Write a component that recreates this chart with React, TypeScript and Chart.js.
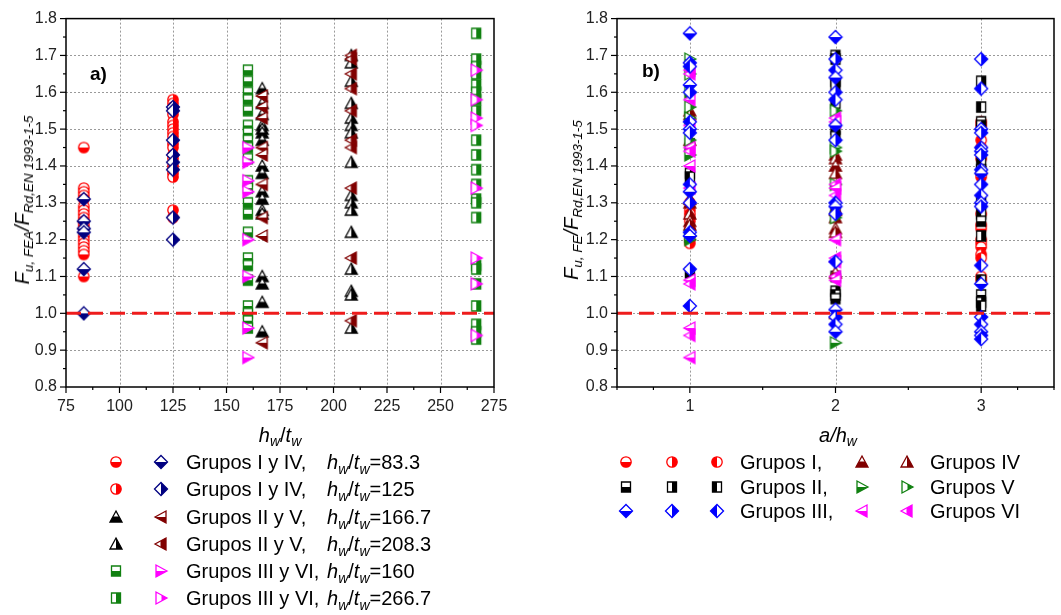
import React, { useEffect, useRef, useMemo } from 'react';
import { Chart, registerables } from 'chart.js';
Chart.register(...registerables);

const FONT = '"Liberation Sans", Arial, sans-serif';
const RED = '#ff0000';
const NAVY = '#000080';
const BLACK = '#000000';
const DKRED = '#800000';
const GREEN = '#108010';
const MAG = '#ff00ff';
const BLUE = '#0000ff';

// ---------- axis ticks ----------
const Y_TICKS = [0.8, 0.9, 1.0, 1.1, 1.2, 1.3, 1.4, 1.5, 1.6, 1.7, 1.8];
const A_X_TICKS = [75, 100, 125, 150, 175, 200, 225, 250, 275];
const B_X_TICKS = [1, 2, 3];
const B_X_RANGE = [0.5, 3.5];
const REF_RATIO = 1.0;

// ---------- panel a) data: hw/tw positions ----------
const HW_833 = 83.3;
const HW_125 = 125;
const HW_160 = 160;
const HW_1667 = 166.7;
const HW_2083 = 208.3;
const HW_2667 = 266.7;

const A_RED_833 = [1.45, 1.34, 1.33, 1.32, 1.31, 1.29, 1.28, 1.27, 1.26, 1.25, 1.24, 1.23, 1.21, 1.2, 1.19, 1.18, 1.17, 1.16, 1.1];
const A_NAVY_833 = [1.31, 1.25, 1.23, 1.22, 1.12, 1.0];
const A_RED_125 = [1.58, 1.57, 1.56, 1.55, 1.54, 1.52, 1.51, 1.5, 1.49, 1.48, 1.46, 1.45, 1.43, 1.42, 1.4, 1.39, 1.38, 1.37, 1.28, 1.26];
const A_NAVY_125 = [1.56, 1.55, 1.47, 1.43, 1.41, 1.39, 1.26, 1.2];
const A_GREEN_160 = [1.66, 1.63, 1.6, 1.58, 1.55, 1.51, 1.49, 1.47, 1.45, 1.42, 1.36, 1.34, 1.3, 1.27, 1.22, 1.15, 1.13, 1.09, 1.02, 1.0, 0.98, 0.96];
const A_MAG_160 = [1.45, 1.41, 1.36, 1.33, 1.2, 1.1, 0.96, 0.88];
const A_BLACK_1667 = [1.61, 1.57, 1.54, 1.51, 1.5, 1.49, 1.47, 1.4, 1.38, 1.33, 1.31, 1.28, 1.27, 1.1, 1.08, 1.03, 0.95];
const A_DKRED_1667 = [1.59, 1.56, 1.53, 1.45, 1.43, 1.35, 1.26, 1.21, 0.92];
const A_BLACK_2083 = [1.7, 1.68, 1.63, 1.57, 1.53, 1.51, 1.49, 1.41, 1.32, 1.3, 1.28, 1.22, 1.12, 1.06, 1.05, 0.96];
const A_DKRED_2083 = [1.7, 1.69, 1.65, 1.61, 1.55, 1.47, 1.45, 1.34, 1.15, 0.98];
const A_GREEN_2667 = [1.76, 1.69, 1.67, 1.65, 1.62, 1.6, 1.58, 1.55, 1.47, 1.43, 1.39, 1.35, 1.31, 1.3, 1.26, 1.13, 1.12, 1.08, 1.02, 0.97, 0.95, 0.93];
const A_MAG_2667 = [1.66, 1.58, 1.53, 1.51, 1.34, 1.15, 1.08, 0.94];

// ---------- panel b) data: a/hw positions ----------
const AH_1 = 1;
const AH_2 = 2;
const AH_3 = 3;

const B_III_1 = [1.76, 1.68, 1.67, 1.62, 1.6, 1.52, 1.5, 1.49, 1.35, 1.33, 1.3, 1.22, 1.21, 1.12, 1.02];
const B_III_2 = [1.75, 1.69, 1.66, 1.64, 1.6, 1.58, 1.51, 1.47, 1.3, 1.29, 1.27, 1.14, 1.01, 0.99, 0.97, 0.95];
const B_III_3 = [1.69, 1.61, 1.5, 1.49, 1.45, 1.44, 1.43, 1.39, 1.38, 1.35, 1.32, 1.3, 1.29, 1.13, 1.08, 0.99, 0.97, 0.95, 0.94, 0.93];
const B_VI_1 = [1.66, 1.65, 1.58, 1.51, 1.45, 1.44, 1.4, 1.34, 1.09, 1.08, 0.96, 0.94, 0.88];
const B_VI_2 = [1.53, 1.52, 1.35, 1.34, 1.32, 1.2, 1.15, 1.14, 1.1, 1.09];
const B_V_1 = [1.69, 1.65, 1.6, 1.56, 1.53, 1.47, 1.43, 1.21, 1.2];
const B_V_2 = [1.55, 1.45, 1.44, 1.35, 1.26, 0.92];
const B_IV_1 = [1.55, 1.54, 1.47, 1.31, 1.3, 1.27, 1.25, 1.24];
const B_IV_2 = [1.43, 1.42, 1.4, 1.38, 1.28, 1.26, 1.23, 1.22, 1.11, 1.0];
const B_II_1 = [1.46, 1.38, 1.37, 1.11];
const B_II_2 = [1.7, 1.69, 1.63, 1.62, 1.57, 1.5, 1.48, 1.28, 1.1, 1.06, 1.05, 1.04];
const B_II_3 = [1.63, 1.56, 1.52, 1.51, 1.41, 1.39, 1.3, 1.27, 1.25, 1.21, 1.09, 1.05, 1.03, 1.02];
const B_I_1 = [1.3, 1.28, 1.27, 1.26, 1.25, 1.23, 1.2, 1.19];
const B_I_2 = [1.27];
const B_I_3 = [1.52, 1.51, 1.47, 1.45, 1.42, 1.38, 1.37, 1.27, 1.24, 1.23, 1.2, 1.19, 1.18, 1.16, 1.15, 1.1, 1.09];

// ---------- markers ----------
type Shape = 'circle' | 'square' | 'diamond' | 'triUp' | 'triLeft' | 'triRight';
type Fill = 'bottom' | 'right' | 'left' | 'full' | 'none';
type Spec = [Shape, string, Fill];

const cache = new Map<string, HTMLCanvasElement>();
function marker(shape: Shape, color: string, fill: Fill): HTMLCanvasElement {
  const key = shape + color + fill;
  const hit = cache.get(key);
  if (hit) return hit;
  const s = 16;
  const c = document.createElement('canvas');
  c.width = s;
  c.height = s;
  const g = c.getContext('2d')!;
  const cx = 8, cy = 8;
  const path = () => {
    g.beginPath();
    switch (shape) {
      case 'circle':
        g.arc(cx, cy, 5.2, 0, Math.PI * 2);
        break;
      case 'square':
        g.rect(cx - 4.5, cy - 5, 9, 10);
        break;
      case 'diamond':
        g.moveTo(cx, cy - 6.5);
        g.lineTo(cx + 6.5, cy);
        g.lineTo(cx, cy + 6.5);
        g.lineTo(cx - 6.5, cy);
        break;
      case 'triUp':
        g.moveTo(cx, cy - 6);
        g.lineTo(cx + 6, cy + 5);
        g.lineTo(cx - 6, cy + 5);
        break;
      case 'triLeft':
        g.moveTo(cx - 6, cy);
        g.lineTo(cx + 5, cy - 6);
        g.lineTo(cx + 5, cy + 6);
        break;
      case 'triRight':
        g.moveTo(cx + 6, cy);
        g.lineTo(cx - 5, cy - 6);
        g.lineTo(cx - 5, cy + 6);
        break;
    }
    g.closePath();
  };
  path();
  g.fillStyle = '#ffffff';
  g.fill();
  g.save();
  path();
  g.clip();
  g.fillStyle = color;
  const mid = shape === 'triUp' ? cy - 0.5 : cy;
  if (fill === 'bottom') g.fillRect(0, mid, s, s);
  else if (fill === 'right') g.fillRect(shape === 'triLeft' ? cx - 0.5 : shape === 'triRight' ? cx + 0.5 : cx, 0, s, s);
  else if (fill === 'left') g.fillRect(0, 0, cx, s);
  else if (fill === 'full') g.fillRect(0, 0, s, s);
  g.restore();
  path();
  g.strokeStyle = color;
  g.lineWidth = 1.3;
  g.stroke();
  cache.set(key, c);
  return c;
}

const pts = (x: number, ys: number[]) => ys.map((y) => ({ x, y }));
const mids = (arr: number[]) => arr.slice(1).map((v, i) => (v + arr[i]) / 2);

// ---------- decoration plugin: grid, reference line, frame, ticks ----------
const decoPlugin = {
  id: 'deco',
  beforeDatasetsDraw(chart: any, _a: any, o: any) {
    const { ctx, chartArea: ca, scales } = chart;
    const x = scales.x, y = scales.y;
    ctx.save();
    ctx.strokeStyle = '#9a9a9a';
    ctx.lineWidth = 1;
    ctx.setLineDash([2, 2]);
    for (const v of o.xGrid) {
      const p = Math.round(x.getPixelForValue(v)) + 0.5;
      ctx.beginPath();
      ctx.moveTo(p, ca.top);
      ctx.lineTo(p, ca.bottom);
      ctx.stroke();
    }
    for (const v of o.yGrid) {
      const p = Math.round(y.getPixelForValue(v)) + 0.5;
      ctx.beginPath();
      ctx.moveTo(ca.left, p);
      ctx.lineTo(ca.right, p);
      ctx.stroke();
    }
    ctx.restore();
  },
  afterDatasetsDraw(chart: any, _a: any, o: any) {
    const { ctx, chartArea: ca, scales } = chart;
    const x = scales.x, y = scales.y;
    ctx.save();
    // reference line
    ctx.strokeStyle = '#ee1c1c';
    ctx.lineWidth = 3;
    ctx.setLineDash([15, 7]);
    const ry = y.getPixelForValue(o.ref);
    ctx.beginPath();
    ctx.moveTo(ca.left, ry);
    ctx.lineTo(ca.right, ry);
    ctx.stroke();
    // frame
    ctx.setLineDash([]);
    ctx.strokeStyle = '#000';
    ctx.lineWidth = 1.5;
    ctx.strokeRect(ca.left, ca.top, ca.right - ca.left, ca.bottom - ca.top);
    // ticks
    ctx.lineWidth = 1.2;
    const line = (x1: number, y1: number, x2: number, y2: number) => {
      ctx.beginPath();
      ctx.moveTo(x1, y1);
      ctx.lineTo(x2, y2);
      ctx.stroke();
    };
    for (const v of o.yMajor) { const p = y.getPixelForValue(v); line(ca.left - 6, p, ca.left, p); }
    for (const v of o.yMinor) { const p = y.getPixelForValue(v); line(ca.left - 3, p, ca.left, p); }
    for (const v of o.xMajor) { const p = x.getPixelForValue(v); line(p, ca.bottom, p, ca.bottom + 6); }
    for (const v of o.xMinor) { const p = x.getPixelForValue(v); line(p, ca.bottom, p, ca.bottom + 3); }
    ctx.restore();
  },
};

const tickFont = { family: FONT, size: 16 };

function baseOptions(xMin: number, xMax: number, xTicks: number[], yWidth: number, pad: any, deco: any) {
  return {
    animation: false,
    responsive: false,
    maintainAspectRatio: false,
    devicePixelRatio: 1,
    events: [],
    layout: { padding: pad },
    plugins: { legend: { display: false }, tooltip: { enabled: false }, deco },
    scales: {
      x: {
        type: 'linear',
        min: xMin,
        max: xMax,
        afterBuildTicks: (s: any) => { s.ticks = xTicks.map((v) => ({ value: v })); },
        ticks: { font: tickFont, color: '#222', padding: 10, maxRotation: 0, autoSkip: false, callback: (v: any) => String(v) },
        grid: { display: false, drawTicks: false },
        border: { display: false },
        afterFit: (s: any) => { s.height = 63; },
      },
      y: {
        type: 'linear',
        min: 0.8,
        max: 1.8,
        afterBuildTicks: (s: any) => { s.ticks = Y_TICKS.map((v) => ({ value: v })); },
        ticks: { font: tickFont, color: '#222', padding: 9, autoSkip: false, callback: (v: any) => Number(v).toFixed(1) },
        grid: { display: false, drawTicks: false },
        border: { display: false },
        afterFit: (s: any) => { s.width = yWidth; },
      },
    },
  };
}

function ds(data: { x: number; y: number }[], style: any) {
  return { data, pointStyle: style, pointRadius: 6, showLine: false };
}

// ---------- legend pieces ----------
function Mk({ spec, x, y }: { spec: Spec; x: number; y: number }) {
  const src = useMemo(() => marker(spec[0], spec[1], spec[2]).toDataURL(), [spec[0], spec[1], spec[2]]);
  return <img src={src} alt="" style={{ position: 'absolute', left: x - 8, top: y - 8, width: 16, height: 16 }} />;
}

const subStyle: React.CSSProperties = { fontSize: '0.7em', verticalAlign: '-0.35em', lineHeight: 0 };

function Txt({ x, y, children, size = 20 }: { x: number; y: number; children: any; size?: number }) {
  return (
    <div style={{ position: 'absolute', left: x, top: y - 12, fontSize: size, lineHeight: '24px', whiteSpace: 'nowrap' }}>
      {children}
    </div>
  );
}

const HwTw = ({ v }: { v?: string }) => (
  <span>
    <i>h<sub style={subStyle}>w</sub></i>/<i>t<sub style={subStyle}>w</sub></i>{v ? '=' + v : ''}
  </span>
);

const LEG_A: { m1: Spec; m2: Spec; label: string; hw: string }[] = [
  { m1: ['circle', RED, 'bottom'], m2: ['diamond', NAVY, 'bottom'], label: 'Grupos I y IV,', hw: '83.3' },
  { m1: ['circle', RED, 'right'], m2: ['diamond', NAVY, 'right'], label: 'Grupos I y IV,', hw: '125' },
  { m1: ['triUp', BLACK, 'bottom'], m2: ['triLeft', DKRED, 'bottom'], label: 'Grupos II y V,', hw: '166.7' },
  { m1: ['triUp', BLACK, 'right'], m2: ['triLeft', DKRED, 'right'], label: 'Grupos II y V,', hw: '208.3' },
  { m1: ['square', GREEN, 'bottom'], m2: ['triRight', MAG, 'bottom'], label: 'Grupos III y VI,', hw: '160' },
  { m1: ['square', GREEN, 'right'], m2: ['triRight', MAG, 'right'], label: 'Grupos III y VI,', hw: '266.7' },
];
const LEG_A_Y = [462, 489, 517, 544, 571, 598];

const LEG_B: { left: Spec[]; l1: string; right: Spec[]; l2: string }[] = [
  { left: [['circle', RED, 'bottom'], ['circle', RED, 'right'], ['circle', RED, 'left']], l1: 'Grupos I,', right: [['triUp', DKRED, 'bottom'], ['triUp', DKRED, 'right']], l2: 'Grupos IV' },
  { left: [['square', BLACK, 'bottom'], ['square', BLACK, 'right'], ['square', BLACK, 'left']], l1: 'Grupos II,', right: [['triRight', GREEN, 'bottom'], ['triRight', GREEN, 'right']], l2: 'Grupos V' },
  { left: [['diamond', BLUE, 'bottom'], ['diamond', BLUE, 'right'], ['diamond', BLUE, 'left']], l1: 'Grupos III,', right: [['triLeft', MAG, 'bottom'], ['triLeft', MAG, 'right']], l2: 'Grupos VI' },
];
const LEG_B_Y = [462, 487, 511];

export default function App() {
  const refA = useRef<HTMLCanvasElement>(null);
  const refB = useRef<HTMLCanvasElement>(null);

  useEffect(() => {
    const m = marker;
    const dataA = [
      ds(pts(HW_833, A_NAVY_833), m('diamond', NAVY, 'bottom')),
      ds(pts(HW_125, A_NAVY_125), m('diamond', NAVY, 'right')),
      ds(pts(HW_833, A_RED_833), m('circle', RED, 'bottom')),
      ds(pts(HW_125, A_RED_125), m('circle', RED, 'right')),
      ds(pts(HW_160, A_MAG_160), m('triRight', MAG, 'bottom')),
      ds(pts(HW_2667, A_MAG_2667), m('triRight', MAG, 'right')),
      ds(pts(HW_160, A_GREEN_160), m('square', GREEN, 'bottom')),
      ds(pts(HW_2667, A_GREEN_2667), m('square', GREEN, 'right')),
      ds(pts(HW_1667, A_DKRED_1667), m('triLeft', DKRED, 'bottom')),
      ds(pts(HW_2083, A_DKRED_2083), m('triLeft', DKRED, 'right')),
      ds(pts(HW_1667, A_BLACK_1667), m('triUp', BLACK, 'bottom')),
      ds(pts(HW_2083, A_BLACK_2083), m('triUp', BLACK, 'right')),
    ];
    const cycle = (styles: HTMLCanvasElement[]) => (ctx: any) => styles[ctx.dataIndex % styles.length];
    const tri3 = (shape: Shape, color: string) => cycle([m(shape, color, 'bottom'), m(shape, color, 'right'), m(shape, color, 'left')]);
    const duo = (shape: Shape, color: string) => cycle([m(shape, color, 'bottom'), m(shape, color, 'right')]);
    const dataB = [
      ds([...pts(AH_1, B_III_1), ...pts(AH_2, B_III_2), ...pts(AH_3, B_III_3)], tri3('diamond', BLUE)),
      ds([...pts(AH_1, B_VI_1), ...pts(AH_2, B_VI_2)], duo('triLeft', MAG)),
      ds([...pts(AH_1, B_V_1), ...pts(AH_2, B_V_2)], duo('triRight', GREEN)),
      ds([...pts(AH_1, B_IV_1), ...pts(AH_2, B_IV_2)], duo('triUp', DKRED)),
      ds([...pts(AH_1, B_II_1), ...pts(AH_2, B_II_2), ...pts(AH_3, B_II_3)], tri3('square', BLACK)),
      ds([...pts(AH_1, B_I_1), ...pts(AH_2, B_I_2), ...pts(AH_3, B_I_3)], tri3('circle', RED)),
    ];

    const yMinor = mids(Y_TICKS);
    const chartA = new Chart(refA.current!, {
      type: 'scatter',
      data: { datasets: dataA as any },
      options: baseOptions(A_X_TICKS[0], A_X_TICKS[A_X_TICKS.length - 1], A_X_TICKS, 66, { left: 0, top: 16, right: 36, bottom: 0 }, {
        xGrid: A_X_TICKS.slice(1, -1),
        yGrid: Y_TICKS.slice(1, -1),
        xMajor: A_X_TICKS,
        xMinor: mids(A_X_TICKS),
        yMajor: Y_TICKS,
        yMinor,
        ref: REF_RATIO,
      }) as any,
      plugins: [decoPlugin as any],
    });
    const bAll = [B_X_RANGE[0], ...B_X_TICKS, B_X_RANGE[1]];
    const chartB = new Chart(refB.current!, {
      type: 'scatter',
      data: { datasets: dataB as any },
      options: baseOptions(B_X_RANGE[0], B_X_RANGE[1], B_X_TICKS, 87, { left: 0, top: 14, right: 5, bottom: 0 }, {
        xGrid: B_X_TICKS,
        yGrid: Y_TICKS.slice(1, -1),
        xMajor: B_X_TICKS,
        xMinor: mids(bAll).filter((v) => !B_X_TICKS.includes(v)).concat([B_X_RANGE[0], B_X_RANGE[1]]),
        yMajor: Y_TICKS,
        yMinor,
        ref: REF_RATIO,
      }) as any,
      plugins: [decoPlugin as any],
    });
    return () => {
      chartA.destroy();
      chartB.destroy();
    };
  }, []);

  const yTitleStyle = (cx: number): React.CSSProperties => ({
    position: 'absolute',
    left: cx,
    top: 200,
    transform: 'translate(-50%, -50%) rotate(-90deg)',
    whiteSpace: 'nowrap',
    fontSize: 20,
    fontStyle: 'italic',
    lineHeight: '24px',
  });
  const sub2: React.CSSProperties = { fontSize: 13.5, verticalAlign: '-0.3em', lineHeight: 0 };

  return (
    <div style={{ position: 'absolute', left: 0, top: 0, width: 1061, height: 615, background: '#fff', fontFamily: FONT, color: '#000', overflow: 'hidden' }}>
      <canvas ref={refA} width={530} height={450} style={{ position: 'absolute', left: 0, top: 0, width: 530, height: 450 }} />
      <canvas ref={refB} width={531} height={450} style={{ position: 'absolute', left: 530, top: 0, width: 531, height: 450 }} />

      <div style={{ position: 'absolute', left: 90, top: 63, fontSize: 19, fontWeight: 'bold' }}>a)</div>
      <div style={{ position: 'absolute', left: 642, top: 60, fontSize: 19, fontWeight: 'bold' }}>b)</div>

      <div style={yTitleStyle(22)}>
        F<sub style={sub2}>u, FEA</sub>/F<sub style={sub2}>Rd,EN 1993-1-5</sub>
      </div>
      <div style={yTitleStyle(571)}>
        F<sub style={sub2}>u, FE</sub>/F<sub style={sub2}>Rd,EN 1993-1-5</sub>
      </div>

      <div style={{ position: 'absolute', left: 280, top: 435, transform: 'translate(-50%, -50%)', fontSize: 20, whiteSpace: 'nowrap' }}>
        <HwTw />
      </div>
      <div style={{ position: 'absolute', left: 838, top: 435, transform: 'translate(-50%, -50%)', fontSize: 20, whiteSpace: 'nowrap', fontStyle: 'italic' }}>
        a/h<sub style={subStyle}>w</sub>
      </div>

      {LEG_A.map((r, i) => (
        <React.Fragment key={'a' + i}>
          <Mk spec={r.m1} x={116} y={LEG_A_Y[i]} />
          <Mk spec={r.m2} x={161} y={LEG_A_Y[i]} />
          <Txt x={186} y={LEG_A_Y[i]}>{r.label}</Txt>
          <Txt x={327} y={LEG_A_Y[i]}><HwTw v={r.hw} /></Txt>
        </React.Fragment>
      ))}

      {LEG_B.map((r, i) => (
        <React.Fragment key={'b' + i}>
          {r.left.map((s, j) => <Mk key={'l' + j} spec={s} x={626 + j * 45.5} y={LEG_B_Y[i]} />)}
          <Txt x={740} y={LEG_B_Y[i]}>{r.l1}</Txt>
          {r.right.map((s, j) => <Mk key={'r' + j} spec={s} x={862 + j * 45} y={LEG_B_Y[i]} />)}
          <Txt x={930} y={LEG_B_Y[i]}>{r.l2}</Txt>
        </React.Fragment>
      ))}
    </div>
  );
}
